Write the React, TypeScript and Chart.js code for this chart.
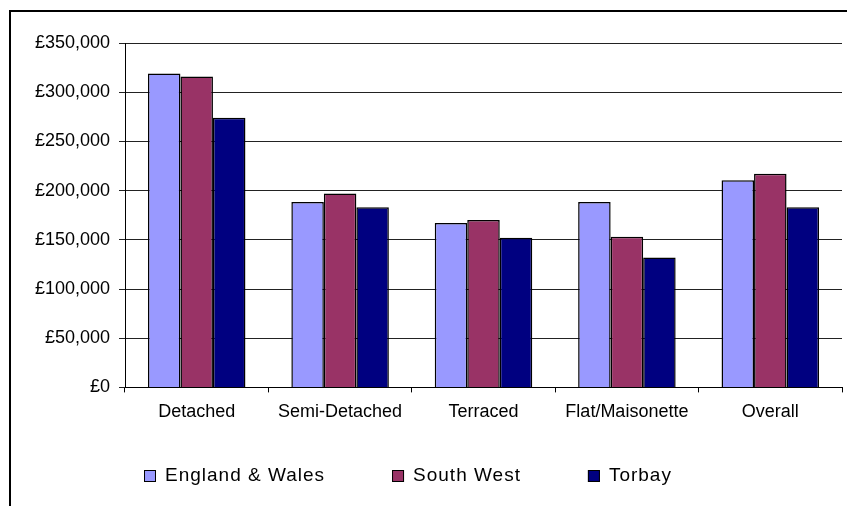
import React, { useEffect, useRef } from "react";
import { Chart, registerables } from "chart.js";

Chart.register(...registerables);

const categories = ["Detached", "Semi-Detached", "Terraced", "Flat/Maisonette", "Overall"];
const seriesNames = ["England & Wales", "South West", "Torbay"];
const englandWales = [319000, 188500, 167000, 188500, 210500];
const southWest = [316000, 197000, 170000, 153000, 217000];
const torbay = [274000, 183000, 152000, 132000, 183000];
const seriesColors = ["#9999FF", "#993366", "#000080"];
const yMin = 0;
const yMax = 350000;
const yStep = 50000;

const FONT = '"Liberation Sans", Arial, sans-serif';

const formatPound = (v: number) =>
  "£" + Math.round(v).toString().replace(/\B(?=(\d{3})+(?!\d))/g, ",");

const customLegend = {
  id: "customLegend",
  afterDraw(chart: any) {
    const ctx = chart.ctx as CanvasRenderingContext2D;
    ctx.save();
    ctx.font = `19px ${FONT}`;
    (ctx as any).letterSpacing = "1px";
    ctx.textBaseline = "middle";
    ctx.textAlign = "left";
    let x = 133;
    const yBox = 458;
    const yText = 463.5;
    chart.data.datasets.forEach((ds: any) => {
      ctx.fillStyle = ds.backgroundColor;
      ctx.fillRect(x, yBox, 12, 12);
      ctx.strokeStyle = "#000";
      ctx.lineWidth = 1;
      ctx.strokeRect(x + 0.5, yBox + 0.5, 11, 11);
      ctx.fillStyle = "#000";
      ctx.fillText(ds.label, x + 21, yText);
      x += 21 + ctx.measureText(ds.label).width + 67;
    });
    ctx.restore();
  },
};

export default function App() {
  const ref = useRef<HTMLCanvasElement | null>(null);

  useEffect(() => {
    if (!ref.current) return;
    const values = [englandWales, southWest, torbay];
    const chart = new Chart(ref.current, {
      type: "bar",
      data: {
        labels: categories,
        datasets: seriesNames.map((name, i) => ({
          label: name,
          data: values[i],
          backgroundColor: seriesColors[i],
          borderColor: "#000",
          borderWidth: 1.5,
          categoryPercentage: 0.68,
          barPercentage: 1,
        })),
      },
      options: {
        responsive: false,
        animation: false,
        devicePixelRatio: 1,
        layout: { padding: { top: 31, right: 5, bottom: 74, left: 0 } },
        plugins: {
          legend: { display: false },
          tooltip: { enabled: false },
          title: { display: false },
        },
        scales: {
          x: {
            grid: {
              display: true,
              drawOnChartArea: false,
              drawTicks: true,
              tickLength: 5,
              color: "#000",
              offset: true,
            },
            border: { color: "#000", width: 1 },
            ticks: {
              color: "#000",
              font: { family: FONT, size: 18 },
              padding: 9,
              maxRotation: 0,
              autoSkip: false,
            },
          },
          y: {
            min: yMin,
            max: yMax,
            ticks: {
              stepSize: yStep,
              color: "#000",
              font: { family: FONT, size: 18 },
              padding: 9,
              callback: (v: any) => formatPound(Number(v)),
            },
            grid: { color: "#222", tickLength: 6, drawTicks: true, lineWidth: 1 },
            border: { color: "#000", width: 1 },
            afterFit: (s: any) => {
              s.width = 114;
            },
          },
        },
      },
      plugins: [customLegend],
    });
    return () => chart.destroy();
  }, []);

  return (
    <div
      style={{
        position: "absolute",
        left: 9,
        top: 10,
        width: 838,
        height: 496,
        borderLeft: "2px solid #000",
        borderTop: "2px solid #000",
        boxSizing: "border-box",
        background: "#fff",
        overflow: "hidden",
      }}
    >
      <canvas ref={ref} width={836} height={494} style={{ display: "block" }} />
    </div>
  );
}
